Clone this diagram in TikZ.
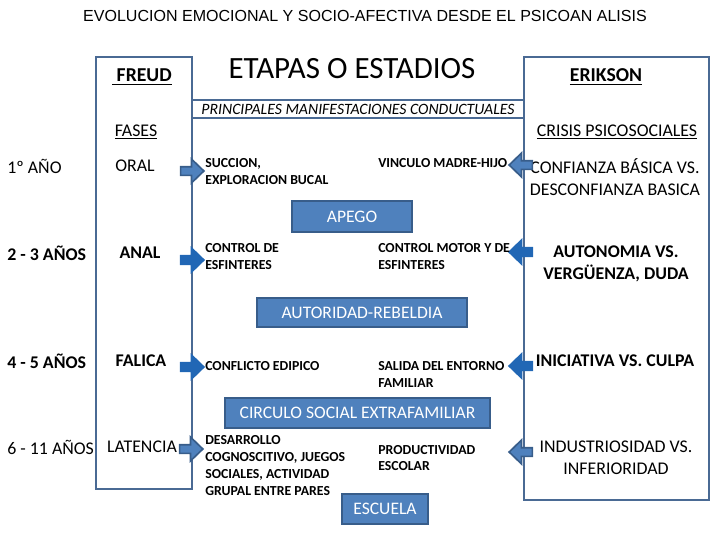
\documentclass[tikz,border=0pt]{standalone}
\usepackage{fontspec}
\setmainfont{Carlito}
\newfontfamily\titlefont{Liberation Sans}
\usetikzlibrary{shapes.arrows, positioning}
\definecolor{frameblue}{HTML}{4A6A94}
\definecolor{boxfill}{HTML}{4F81BD}
\definecolor{boxline}{HTML}{385D8A}
\definecolor{solidblue}{HTML}{2167B5}
\tikzset{
  framebox/.style={
    draw=frameblue, line width=1.6pt, inner sep=0pt
  },
  bluebox/.style={
    draw=boxline, fill=boxfill, line width=1.4pt, inner sep=0pt,
    text=white, font=\fontsize{12.5}{15}\selectfont
  },
  plaintext/.style={
    inner sep=0pt, align=center, font=\fontsize{12.7}{15.5}\selectfont
  },
  agetext/.style={
    inner sep=0pt, anchor=west, font=\fontsize{12.7}{15.5}\selectfont
  },
  smalltext/.style={
    inner sep=0pt, anchor=west, align=left,
    font=\fontsize{9.8}{12}\selectfont\bfseries
  },
  blockarrow/.style={
    single arrow, inner sep=0.0875cm, minimum height=0.58cm,
    minimum width=0.55cm, single arrow head extend=0.19cm,
    single arrow tip angle=88, line width=1.2pt
  },
  arrowlight/.style={blockarrow, fill=boxfill, draw=boxline},
  arrowsolid/.style={blockarrow, fill=solidblue, draw=solidblue},
}
\begin{document}
\begin{tikzpicture}[x=0.025cm, y=-0.025cm]
  \useasboundingbox (0,0) rectangle (720,540);

  % === Title ===
  \node[inner sep=0pt, font=\titlefont\fontsize{11.4}{13}\selectfont] (title) at (365,16)
    {EVOLUCION EMOCIONAL Y SOCIO-AFECTIVA DESDE EL PSICOAN ALISIS};

  % === Frames ===
  \node[framebox, minimum width=2.4cm, minimum height=10.8cm] (freud) at (144,273) {};
  \node[framebox, minimum width=4.625cm, minimum height=11.075cm] (erikson) at (616.5,278.5) {};
  \node[framebox, minimum width=8.3cm, minimum height=0.45cm] (principales) at (358,109)
    {\fontsize{11.2}{13}\selectfont\itshape PRINCIPALES MANIFESTACIONES CONDUCTUALES};

  % headings
  \node[plaintext, font=\fontsize{14}{16}\selectfont\bfseries] (freudtitle) at (142,77) {\underline{\ FREUD}};
  \node[plaintext, font=\fontsize{22}{26}\selectfont] (etapas) at (352,69) {ETAPAS O ESTADIOS};
  \node[plaintext, font=\fontsize{14}{16}\selectfont\bfseries] (eriksontitle) at (606,77) {\underline{ERIKSON}};
  \node[plaintext] (fases) at (136,132) {\underline{FASES}};
  \node[plaintext] (crisis) at (617,132) {\underline{CRISIS PSICOSOCIALES}};

  % === Ages ===
  \node[agetext] (ageA) at (7,166) {1º AÑO};
  \node[agetext, font=\fontsize{12.7}{15.5}\selectfont\bfseries] (ageB) at (7,253) {2 - 3 AÑOS};
  \node[agetext, font=\fontsize{12.7}{15.5}\selectfont\bfseries] (ageC) at (7,361) {4 - 5 AÑOS};
  \node[agetext] (ageD) at (7,447) {6 - 11 AÑOS};

  % === Freud phases ===
  \node[plaintext] (oral) at (135,166) {ORAL};
  \node[plaintext, font=\fontsize{12.7}{15.5}\selectfont\bfseries] (anal) at (140,253) {ANAL};
  \node[plaintext, font=\fontsize{12.7}{15.5}\selectfont\bfseries] (falica) at (141,361) {FALICA};
  \node[plaintext] (latencia) at (142,447) {LATENCIA};

  % === Erikson crises ===
  \node[plaintext] (confianza) at (615,177) {CONFIANZA BÁSICA VS.\\DESCONFIANZA BASICA};
  \node[plaintext, font=\fontsize{12.7}{15.5}\selectfont\bfseries] (autonomia) at (616,264) {AUTONOMIA VS.\\VERGÜENZA, DUDA};
  \node[plaintext, font=\fontsize{12.7}{15.5}\selectfont\bfseries] (iniciativa) at (615,361) {INICIATIVA VS. CULPA};
  \node[plaintext] (industria) at (616,458) {INDUSTRIOSIDAD VS.\\INFERIORIDAD};

  % === Block arrows ===
  \node[arrowlight] (arrOral) at (190,171) {};
  \node[arrowsolid] (arrAnal) at (190,260) {};
  \node[arrowsolid] (arrFalica) at (190,367) {};
  \node[arrowlight] (arrLatencia) at (189,449) {};
  \node[arrowlight, shape border rotate=180] (arrConfianza) at (523,165) {};
  \node[arrowsolid, shape border rotate=180] (arrAutonomia) at (523,252) {};
  \node[arrowsolid, shape border rotate=180] (arrIniciativa) at (523,366) {};
  \node[arrowlight, shape border rotate=180] (arrIndustria) at (523,452) {};

  % === Behaviours ===
  \node[smalltext] (succion) at (205,171.5) {SUCCION,\\EXPLORACION BUCAL};
  \node[smalltext] (vinculo) at (378,163) {VINCULO MADRE-HIJO};
  \node[smalltext] (esfinteres) at (205,256.5) {CONTROL DE\\ESFINTERES};
  \node[smalltext] (motor) at (378,256.5) {CONTROL MOTOR Y DE\\ESFINTERES};
  \node[smalltext] (edipico) at (205,366) {CONFLICTO EDIPICO};
  \node[smalltext] (salida) at (378,374.5) {SALIDA DEL ENTORNO\\FAMILIAR};
  \node[smalltext] (desarrollo) at (205,465.5) {DESARROLLO\\COGNOSCITIVO, JUEGOS\\SOCIALES, ACTIVIDAD\\GRUPAL ENTRE PARES};
  \node[smalltext] (productividad) at (378,458) {PRODUCTIVIDAD\\ESCOLAR};

  % === Blue boxes ===
  \node[bluebox, minimum width=3cm, minimum height=0.775cm] (apego) at (352,216.5) {APEGO};
  \node[bluebox, minimum width=5.25cm, minimum height=0.725cm] (autoridad) at (362,312.5) {AUTORIDAD-REBELDIA};
  \node[bluebox, minimum width=6.625cm, minimum height=0.75cm] (circulo) at (357.5,413) {CIRCULO SOCIAL EXTRAFAMILIAR};
  \node[bluebox, minimum width=2.15cm, minimum height=0.75cm] (escuela) at (385,509) {ESCUELA};

\end{tikzpicture}
\end{document}
